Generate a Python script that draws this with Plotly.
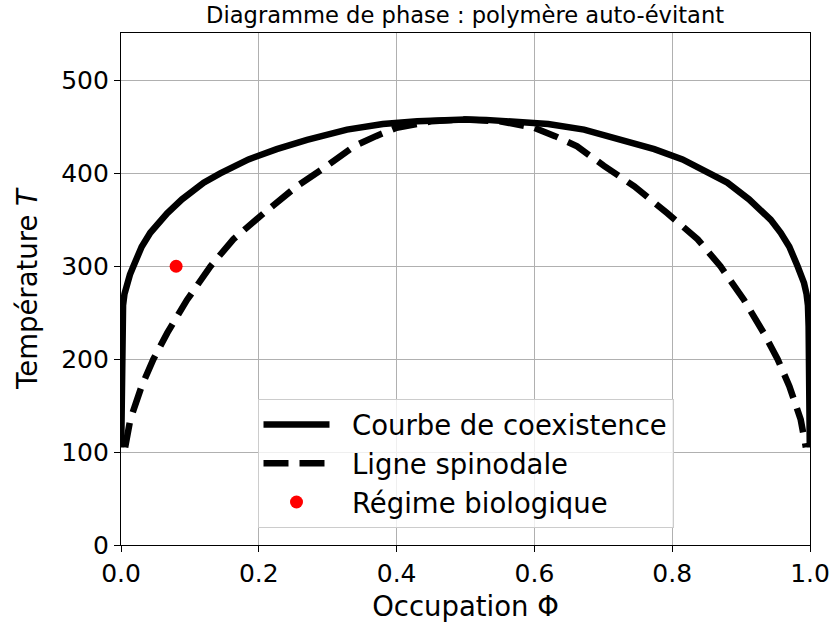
import plotly.graph_objects as go

# Coexistence curve (binodal)
coex_phi = [0.0003, 0.0008, 0.0012, 0.002, 0.003, 0.005, 0.0087, 0.013, 0.018, 0.030, 0.0425,
            0.057, 0.067, 0.0885, 0.12, 0.144, 0.185, 0.226, 0.27, 0.328, 0.38, 0.43, 0.47, 0.5,
            0.53, 0.57, 0.62, 0.672, 0.73, 0.774, 0.815, 0.856, 0.88, 0.9115, 0.933, 0.943,
            0.9575, 0.97, 0.982, 0.987, 0.9913, 0.995, 0.997, 0.998, 0.9988, 0.9992, 0.9997]
coex_T = [105, 160, 200, 235, 258, 270, 282, 291, 300, 321, 336,
          350, 357, 372, 390, 400, 415, 426, 436, 447, 453, 456, 457.5, 458,
          457.5, 456, 453, 447, 436, 426, 415, 400, 390, 372, 357, 350,
          336, 321, 300, 291, 282, 270, 258, 235, 200, 160, 105]

# Spinodal line
spin_phi = [0.006, 0.0135, 0.030, 0.047, 0.067, 0.096, 0.13, 0.163, 0.207, 0.255,
            0.299, 0.338, 0.37, 0.40, 0.45, 0.5,
            0.55, 0.60, 0.63, 0.662, 0.701, 0.745, 0.793, 0.837, 0.87, 0.904,
            0.933, 0.953, 0.97, 0.9865, 0.994]
spin_T = [105, 135, 171, 200, 228, 264, 300, 329, 357, 386,
          408, 429, 440, 449, 456, 458,
          456, 449, 440, 429, 408, 386, 357, 329, 300, 264,
          228, 200, 171, 135, 105]

# Biological regime point
bio_phi = [0.08]
bio_T = [300]

legend_names = ["Courbe de coexistence", "Ligne spinodale", "Régime biologique"]

FONT = "DejaVu Sans"
PAD = "\u00a0\u00a0"

fig = go.Figure()
fig.add_trace(go.Scatter(x=coex_phi, y=coex_T, mode="lines",
                         line=dict(color="black", width=6.5),
                         name=PAD + legend_names[0]))
fig.add_trace(go.Scatter(x=spin_phi, y=spin_T, mode="lines",
                         line=dict(color="black", width=6.5, dash="25px,11px"),
                         name=PAD + legend_names[1]))
fig.add_trace(go.Scatter(x=bio_phi, y=bio_T, mode="markers",
                         marker=dict(color="red", size=13),
                         name=PAD + legend_names[2]))

axis_common = dict(showgrid=True, gridcolor="#b0b0b0", gridwidth=1,
                   showline=True, linecolor="black", linewidth=1.3, mirror=True,
                   ticks="outside", ticklen=6, tickcolor="black", tickwidth=1.3,
                   zeroline=False, automargin=False,
                   tickfont=dict(family=FONT, size=25, color="black"))

fig.update_layout(
    width=832, height=626,
    margin=dict(l=121, r=22, t=33, b=81, autoexpand=False),
    paper_bgcolor="white", plot_bgcolor="white",
    title=dict(text="Diagramme de phase : polymère auto-évitant",
               x=0.559, xanchor="center", y=0.976, yanchor="middle",
               font=dict(family=FONT, size=22.6, color="black"),
               automargin=False),
    xaxis=dict(range=[0, 1], tickvals=[0, 0.2, 0.4, 0.6, 0.8, 1.0],
               ticktext=["0.0", "0.2", "0.4", "0.6", "0.8", "1.0"],
               title=dict(text="Occupation Φ", font=dict(family=FONT, size=27.5, color="black"),
                          standoff=9),
               **axis_common),
    yaxis=dict(range=[0, 551], tickvals=[0, 100, 200, 300, 400, 500],
               title=dict(text="Température <i>T</i>", font=dict(family=FONT, size=27.5, color="black"),
                          standoff=15),
               **axis_common),
    legend=dict(x=0.5, xanchor="center", y=0.033, yanchor="bottom",
                bgcolor="rgba(255,255,255,0.8)", bordercolor="#cccccc", borderwidth=1,
                font=dict(family=FONT, size=27.5, color="black"),
                itemwidth=66),
    showlegend=True,
)

fig.write_html("out.html",
               config={"displayModeBar": False},
               post_script="document.body.style.margin='0';document.body.style.padding='0';")
